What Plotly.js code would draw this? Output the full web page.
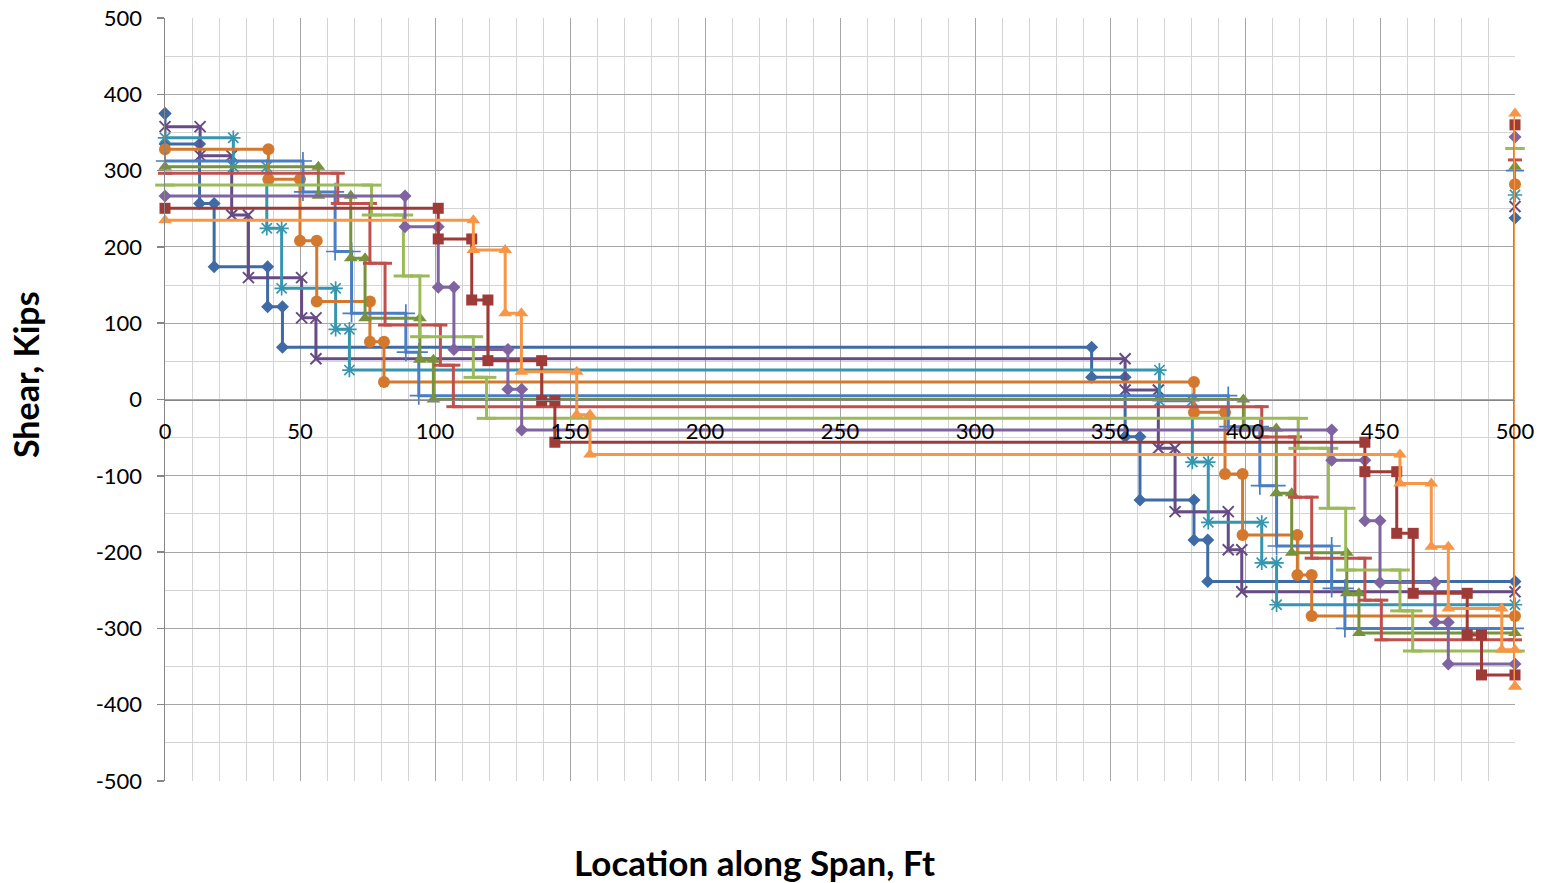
<!DOCTYPE html>
<html>
<head>
<meta charset="utf-8">
<script src="https://cdn.plot.ly/plotly-3.0.1.min.js"></script>
<style>
  html, body { margin: 0; padding: 0; background: #ffffff; }
  #chart { width: 1549px; height: 883px; }
</style>
</head>
<body>
<div id="chart"></div>
<script>
// Span end (ft)
const spanEnd = 500;

// Axis tick labels
const xTickVals = [0, 50, 100, 150, 200, 250, 300, 350, 400, 450, 500];
const xTickText = ['0', '50', '100', '150', '200', '250', '300', '350', '400', '450', '500'];
const yTickVals = [-500, -400, -300, -200, -100, 0, 100, 200, 300, 400, 500];
const yTickText = ['-500', '-400', '-300', '-200', '-100', '0', '100', '200', '300', '400', '500'];

// Each series: x locations of the steps (ft), shear levels (kips) between steps,
// and the value plotted at the right support (x = 500).
const stepsBlueDiamond   = [0, 12.8, 18.2, 38, 43.5, 343.2, 355.6, 361.1, 381.1, 386.2];
const levelsBlueDiamond  = [375, 335, 257, 174, 121.6, 68.5, 29, -48.7, -131.7, -184, -238.5];
const endBlueDiamond     = 238;

const stepsPurpleX       = [13, 24.7, 30.9, 50.6, 55.9, 355.6, 367.9, 374.1, 393.8, 398.8];
const levelsPurpleX      = [357.6, 319.6, 241.8, 159.7, 107, 53.5, 12.5, -64, -147, -197, -252];
const endPurpleX         = 253;

const stepsTealStar      = [25.3, 37.7, 43.2, 63.2, 68.3, 368.3, 380.5, 386.4, 406.2, 411.7];
const levelsTealStar     = [343, 305, 224.4, 145.7, 92, 38.5, -1.6, -82, -161, -214, -269];
const endTealStar        = 268;

const stepsOrangeCircle  = [38.3, 50, 56.2, 75.9, 81.1, 381.1, 392.6, 399.1, 419.4, 424.7];
const levelsOrangeCircle = [328, 288.6, 208, 128.5, 75.8, 23, -16.8, -97.6, -177.6, -230, -283.7];
const endOrangeCircle    = 282;

const stepsBluePlus      = [51.1, 63, 69.1, 89.2, 94, 393.8, 405.5, 411.7, 432.1, 437];
const levelsBluePlus     = [312.6, 272, 194, 113, 62, 5, -35.6, -113, -192, -247.5, -300];
const endBluePlus        = 300;

const stepsOliveTri      = [56.8, 68.8, 74.1, 94.4, 99.4, 399.4, 411.6, 417.3, 437.7, 442.2];
const levelsOliveTri     = [305, 267, 185, 106.4, 52, 0, -38, -123, -201, -254, -306];
const endOliveTri        = 305;

const stepsRedDash       = [64, 75.9, 81.5, 102, 106.8, 406.2, 418.5, 424.7, 444.4, 450.5];
const levelsRedDash      = [296.5, 257, 178.5, 97.6, 45, -9.4, -49, -128, -208, -263, -315];
const endRedDash         = 314;

const stepsGreenDash     = [76.5, 88.3, 94.4, 114.2, 119.1, 419.7, 430.9, 437.3, 457.4, 462.1];
const levelsGreenDash    = [281, 241.8, 161.9, 82.3, 29, -24.7, -64, -142.6, -223.5, -277, -329.6];
const endGreenDash       = 329;

const stepsPurpleDiamond  = [88.9, 101.2, 107, 127, 132.1, 432.1, 444.4, 450, 470.4, 475.3];
const levelsPurpleDiamond = [266.7, 226.5, 147, 65.5, 13.4, -40, -79.5, -159, -240, -292, -346.5];
const endPurpleDiamond    = 344;

const stepsRedSquare     = [101.2, 113.6, 119.6, 139.5, 144.4, 444.4, 456.2, 462.3, 482.3, 487.6];
const levelsRedSquare    = [250.6, 210.4, 130.4, 50.9, -1.5, -56, -94.6, -175.4, -254, -308.6, -361];
const endRedSquare       = 360;

const stepsOrangeTri     = [114.2, 126, 132, 152.5, 157.4, 457.4, 469, 475.3, 495.1, 500];
const levelsOrangeTri    = [235, 196, 113, 36.5, -20, -72, -110, -193, -274, -328, -376];
const endOrangeTri       = 375;

// Build the step-line vertices from the arrays above
function stepPath(steps, levels, endVal) {
  const xs = [0], ys = [levels[0]];
  for (let i = 0; i < steps.length; i++) {
    xs.push(steps[i], steps[i]);
    ys.push(levels[i], levels[i + 1]);
  }
  xs.push(spanEnd, spanEnd);
  ys.push(levels[levels.length - 1], endVal);
  return {xs, ys};
}

function series(name, steps, levels, endVal, color, symbol, size, open, lw) {
  const p = stepPath(steps, levels, endVal);
  return {
    type: 'scatter', mode: 'lines+markers', name: name,
    x: p.xs, y: p.ys,
    line: {color: color, width: 3},
    marker: {
      symbol: symbol, size: size, color: color,
      line: {color: color, width: open ? lw : 0}
    },
    cliponaxis: false,
    hoverinfo: 'x+y'
  };
}

const data = [
  series('S1', stepsBlueDiamond, levelsBlueDiamond, endBlueDiamond, '#3E6BA5', 'diamond', 10, false),
  series('S2', stepsPurpleX, levelsPurpleX, endPurpleX, '#674B85', 'x-thin-open', 11, true, 2),
  series('S3', stepsTealStar, levelsTealStar, endTealStar, '#3796AF', 'asterisk-open', 12, true, 1.7),
  series('S4', stepsOrangeCircle, levelsOrangeCircle, endOrangeCircle, '#D4782E', 'circle', 12, false),
  series('S5', stepsBluePlus, levelsBluePlus, endBluePlus, '#4A7EC4', 'cross-thin-open', 13, true, 1.7),
  series('S6', stepsOliveTri, levelsOliveTri, endOliveTri, '#76923C', 'triangle-up', 12, false),
  series('S7', stepsRedDash, levelsRedDash, endRedDash, '#C0504D', 'line-ew-open', 10, true, 3),
  series('S8', stepsGreenDash, levelsGreenDash, endGreenDash, '#9BBB59', 'line-ew-open', 14, true, 3),
  series('S9', stepsPurpleDiamond, levelsPurpleDiamond, endPurpleDiamond, '#8064A2', 'diamond', 10, false),
  series('S10', stepsRedSquare, levelsRedSquare, endRedSquare, '#9E3B38', 'square', 11, false),
  series('S11', stepsOrangeTri, levelsOrangeTri, endOrangeTri, '#F79646', 'triangle-up', 12, false)
];

const fontFam = 'Lato, "Open Sans", sans-serif';

const layout = {
  width: 1549, height: 883,
  margin: {l: 165, r: 34, t: 18, b: 102},
  paper_bgcolor: '#ffffff', plot_bgcolor: '#ffffff',
  showlegend: false,
  font: {family: fontFam, color: '#000000'},
  xaxis: {
    range: [0, 500], tickmode: 'array', tickvals: xTickVals, ticktext: xTickText,
    showgrid: true, gridcolor: '#A6A6A6', gridwidth: 1,
    minor: {dtick: 10, tick0: 0, showgrid: true, gridcolor: '#D4D4D4', gridwidth: 1, ticks: ''},
    zeroline: false,
    showline: true, linecolor: '#868686', linewidth: 1.5,
    anchor: 'free', position: 0.5,
    ticks: '', ticklabelstandoff: 12,
    tickfont: {family: fontFam, size: 22, color: '#000000'},
    fixedrange: true
  },
  yaxis: {
    range: [-500, 500], tickmode: 'array', tickvals: yTickVals, ticktext: yTickText,
    showgrid: true, gridcolor: '#A6A6A6', gridwidth: 1,
    minor: {dtick: 50, tick0: 0, showgrid: true, gridcolor: '#D4D4D4', gridwidth: 1, ticks: ''},
    zeroline: false,
    showline: true, linecolor: '#868686', linewidth: 1.5,
    ticks: 'outside', ticklen: 7, tickcolor: '#868686', tickwidth: 1.5,
    ticklabelstandoff: 10,
    tickfont: {family: fontFam, size: 22, color: '#000000'},
    fixedrange: true
  },
  annotations: [
    {text: '<b>Location along Span, Ft</b>', xref: 'paper', yref: 'paper',
     x: 0.437, y: -0.106, xanchor: 'center', yanchor: 'middle', showarrow: false,
     font: {family: fontFam, size: 35, color: '#000000'}},
    {text: '<b>Shear, Kips</b>', xref: 'paper', yref: 'paper',
     x: -0.1037, y: 0.532, xanchor: 'center', yanchor: 'middle', showarrow: false,
     textangle: -90,
     font: {family: fontFam, size: 34, color: '#000000'}}
  ]
};

Plotly.newPlot('chart', data, layout, {displayModeBar: false, staticPlot: true});
</script>
</body>
</html>
